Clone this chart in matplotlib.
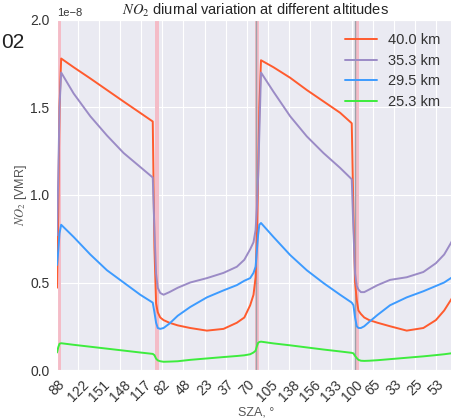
import numpy as np
import matplotlib
matplotlib.use("Agg")
import matplotlib.pyplot as plt
import seaborn as sns

sns.set_style("darkgrid")
plt.rcParams['font.family'] = ['Liberation Sans', 'DejaVu Sans']
plt.rcParams['mathtext.fontset'] = 'stix'

# time since first sunset, hours
t = [0.0, 0.15, 0.3, 0.5, 2.0, 4.0, 6.0, 8.0, 10.0, 11.5,
     11.7, 11.9, 12.1, 12.4, 12.8, 13.5, 14.5, 16.0, 18.0, 20.0,
     21.6, 22.5, 23.2, 23.6, 23.85, 24.0, 24.15, 24.3, 24.5, 26.0,
     28.0, 30.0, 32.0, 34.0, 35.4, 35.6, 35.8, 36.0, 36.2, 36.5,
     36.9, 37.5, 38.5, 40.0, 42.0, 44.0, 45.5, 46.5, 47.3, 47.8]

# NO2 VMR in units of 1e-8
no2_40 = [0.47, 0.9, 1.5, 1.78, 1.73, 1.666, 1.60, 1.534, 1.469, 1.42,
          0.7, 0.38, 0.33, 0.30, 0.285, 0.27, 0.255, 0.24, 0.225, 0.235,
          0.27, 0.30, 0.37, 0.43, 0.53, 0.75, 1.1, 1.5, 1.77, 1.73,
          1.67, 1.60, 1.535, 1.47, 1.41, 0.9, 0.5, 0.40, 0.34, 0.32,
          0.30, 0.285, 0.27, 0.25, 0.225, 0.24, 0.285, 0.34, 0.40, 0.44]
no2_35 = [0.77, 1.1, 1.5, 1.70, 1.58, 1.45, 1.34, 1.24, 1.16, 1.10,
          0.8, 0.55, 0.47, 0.44, 0.43, 0.445, 0.47, 0.50, 0.525, 0.555,
          0.59, 0.63, 0.69, 0.73, 0.80, 0.92, 1.1, 1.35, 1.70, 1.59,
          1.45, 1.335, 1.24, 1.155, 1.09, 0.8, 0.55, 0.48, 0.46, 0.445,
          0.445, 0.46, 0.485, 0.515, 0.53, 0.56, 0.61, 0.66, 0.725, 0.77]
no2_29 = [0.60, 0.68, 0.78, 0.83, 0.76, 0.66, 0.57, 0.50, 0.43, 0.385,
          0.33, 0.27, 0.24, 0.235, 0.24, 0.265, 0.31, 0.36, 0.415, 0.455,
          0.485, 0.51, 0.525, 0.555, 0.59, 0.68, 0.77, 0.83, 0.84, 0.76,
          0.657, 0.57, 0.497, 0.43, 0.385, 0.37, 0.30, 0.25, 0.24, 0.24,
          0.25, 0.275, 0.315, 0.37, 0.415, 0.45, 0.48, 0.50, 0.525, 0.54]
no2_25 = [0.10, 0.13, 0.15, 0.153, 0.144, 0.133, 0.122, 0.111, 0.100, 0.092,
          0.085, 0.065, 0.055, 0.05, 0.047, 0.048, 0.05, 0.058, 0.066, 0.074,
          0.08, 0.084, 0.09, 0.10, 0.11, 0.135, 0.155, 0.16, 0.162, 0.152,
          0.141, 0.129, 0.117, 0.106, 0.098, 0.095, 0.08, 0.068, 0.058, 0.053,
          0.052, 0.053, 0.056, 0.062, 0.07, 0.078, 0.085, 0.09, 0.095, 0.098]

labels = ['40.0 km', '35.3 km', '29.5 km', '25.3 km']
colors = ['#ff5b2e', '#9b8bc6', '#3d9bff', '#3dec3d']

sza_ticks = ['88', '122', '151', '148', '117', '82', '48', '23', '37', '70',
             '105', '138', '156', '133', '100', '65', '33', '25', '53']
tick_step = 2.532  # hours between SZA ticks

twilight = [0.0, 11.75, 23.8, 35.75]
twilight_lines = [23.85, 35.75]

fig = plt.figure(figsize=(4.51, 4.18), dpi=100)
ax = fig.add_axes([57 / 451, 48 / 418, 398 / 451, 350 / 418])

for x0 in twilight:
    ax.axvspan(x0, x0 + 0.5, color='#f4bcc7', lw=0, zorder=1)
for x0 in twilight_lines:
    ax.axvline(x0, color='#a0a0a8', lw=1, zorder=1.5)

t = np.array(t)
for vals, lab, col in zip([no2_40, no2_35, no2_29, no2_25], labels, colors):
    ax.plot(t, np.array(vals) * 1e-8, color=col, lw=1.4, label=lab, zorder=3)

ax.set_xlim(0, 47.8)
ax.set_ylim(0, 2e-8)
ax.set_yticks([0, 0.5e-8, 1.0e-8, 1.5e-8, 2.0e-8])
ax.set_xticks(np.arange(len(sza_ticks)) * tick_step)
ax.set_xticklabels(sza_ticks, rotation=45)
ax.tick_params(labelsize=10, pad=2, labelcolor='#333333')
ax.yaxis.get_offset_text().set_fontsize(8)

ax.set_title('$NO_2$ diurnal variation at different altitudes', fontsize=10.5, pad=4)
ax.set_xlabel('SZA, °', fontsize=9, labelpad=2, color='#555555')
ax.set_ylabel('$NO_2$ [VMR]', fontsize=9, labelpad=1, color='#555555')

leg = ax.legend(loc='upper right', frameon=False, fontsize=10.5,
                handlelength=2.2, handletextpad=0.7, labelspacing=0.45,
                bbox_to_anchor=(0.995, 1.0))
for txt in leg.get_texts():
    txt.set_color('#333333')

fig.text(0.002, 1 - 42 / 418, '02', fontsize=15, va='center', ha='left', color='#222222')

fig.savefig('out.png', dpi=100)
